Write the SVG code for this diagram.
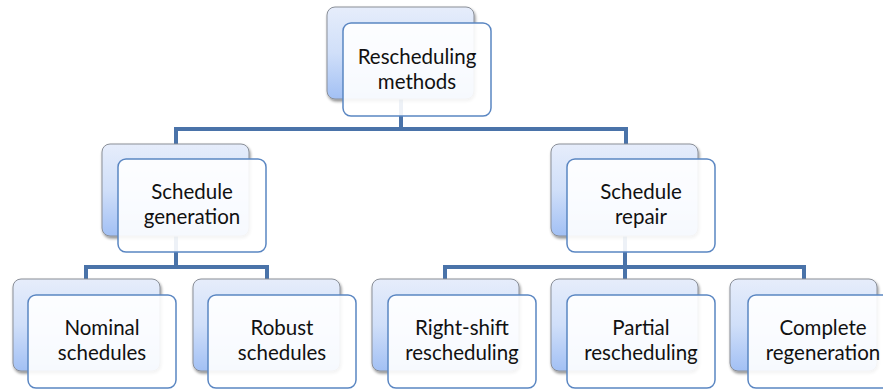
<svg xmlns="http://www.w3.org/2000/svg" width="883" height="389" viewBox="0 0 883 389">
<defs>
<linearGradient id="bg" x1="0" y1="0" x2="0" y2="1">
<stop offset="0" stop-color="#e6edfb"/>
<stop offset="0.5" stop-color="#d0dff9"/>
<stop offset="1" stop-color="#a2c0f4"/>
</linearGradient>
<filter id="sh" x="-10%" y="-10%" width="130%" height="130%">
<feGaussianBlur in="SourceAlpha" stdDeviation="1.5"/>
<feOffset dx="1" dy="2" result="b"/>
<feComponentTransfer><feFuncA type="linear" slope="0.45"/></feComponentTransfer>
<feMerge><feMergeNode/><feMergeNode in="SourceGraphic"/></feMerge>
</filter>
</defs>
<style>
.back{fill:url(#bg);stroke:#8a8f98;stroke-width:1;filter:url(#sh)}
.front{fill:#ffffff;fill-opacity:0.9;stroke:#5a86c2;stroke-width:1.5}
.conn{fill:none;stroke:#4a73a9;stroke-width:4;stroke-linejoin:miter}
text{font-family:Lato,"Open Sans","Liberation Sans",sans-serif;font-size:20.5px;fill:#111;text-anchor:middle}
</style>
<g id="connectors">
<path class="conn" d="M401 99 V129 M176 146 V129 H626 V146"/>
<path class="conn" d="M176 236 V267 M86 281 V267 H267 V281"/>
<path class="conn" d="M625 236 V267 M445 281 V267 H804 V281 M625 267 V281"/>
</g>
<g id="n_root">
<rect class="back" x="327" y="7" width="147" height="92" rx="8"/>
<rect class="front" x="343" y="23" width="148" height="93" rx="8"/>
<text x="417" y="64">Rescheduling</text>
<text x="417" y="88.5">methods</text>
</g>
<g id="n_generation">
<rect class="back" x="102" y="144" width="147" height="92" rx="8"/>
<rect class="front" x="118" y="159" width="148" height="93" rx="8"/>
<text x="192" y="199">Schedule</text>
<text x="192" y="223.5">generation</text>
</g>
<g id="n_repair">
<rect class="back" x="551" y="144" width="147" height="92" rx="8"/>
<rect class="front" x="567" y="159" width="148" height="93" rx="8"/>
<text x="641" y="199">Schedule</text>
<text x="641" y="223.5">repair</text>
</g>
<g id="n_nominal">
<rect class="back" x="13" y="279" width="147" height="92" rx="8"/>
<rect class="front" x="28" y="295" width="148" height="93" rx="8"/>
<text x="102" y="335">Nominal</text>
<text x="102" y="359.5">schedules</text>
</g>
<g id="n_robust">
<rect class="back" x="193" y="279" width="147" height="92" rx="8"/>
<rect class="front" x="208" y="295" width="148" height="93" rx="8"/>
<text x="282" y="335">Robust</text>
<text x="282" y="359.5">schedules</text>
</g>
<g id="n_rightshift">
<rect class="back" x="372" y="279" width="147" height="92" rx="8"/>
<rect class="front" x="388" y="295" width="148" height="93" rx="8"/>
<text x="462" y="335">Right-shift</text>
<text x="462" y="359.5">rescheduling</text>
</g>
<g id="n_partial">
<rect class="back" x="551" y="279" width="147" height="92" rx="8"/>
<rect class="front" x="567" y="295" width="148" height="93" rx="8"/>
<text x="641" y="335">Partial</text>
<text x="641" y="359.5">rescheduling</text>
</g>
<g id="n_complete">
<rect class="back" x="730" y="279" width="147" height="92" rx="8"/>
<rect class="front" x="748" y="295" width="148" height="93" rx="8"/>
<text x="823" y="335">Complete</text>
<text x="823" y="359.5">regeneration</text>
</g>
</svg>
